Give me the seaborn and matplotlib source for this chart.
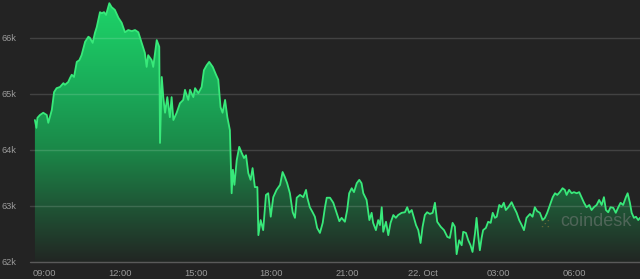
import numpy as np
import pandas as pd
import matplotlib
matplotlib.use("Agg")
import matplotlib.pyplot as plt
from matplotlib.colors import LinearSegmentedColormap
from matplotlib.transforms import blended_transform_factory
import seaborn as sns

# hours since 21 Oct 00:00
hours = [8.62, 8.68, 8.72, 8.82, 8.95, 9.09, 9.15, 9.29, 9.38, 9.48, 9.61, 9.75, 9.81, 9.94,
         10.01, 10.08, 10.17, 10.28, 10.38, 10.47, 10.61, 10.74, 10.80, 10.91, 11.00, 11.07,
         11.20, 11.27, 11.36, 11.44, 11.57, 11.66, 11.79, 11.93, 12.06, 12.19, 12.32, 12.46,
         12.59, 12.72, 12.79, 12.98, 13.05, 13.11, 13.25, 13.31, 13.45, 13.55, 13.58, 13.65,
         13.71, 13.78, 13.87, 13.97, 14.04, 14.11, 14.24, 14.37, 14.50, 14.57, 14.70, 14.77,
         14.90, 14.97, 15.10, 15.23, 15.32, 15.43, 15.53, 15.67, 15.80, 15.89, 15.98, 16.06,
         16.16, 16.25, 16.35, 16.42, 16.47, 16.53, 16.62, 16.72, 16.82, 16.91, 16.99, 17.08,
         17.17, 17.25, 17.34, 17.44, 17.48, 17.57, 17.67, 17.78, 17.87, 17.97, 18.07, 18.20,
         18.34, 18.44, 18.53, 18.62, 18.73, 18.84, 18.93, 19.00, 19.13, 19.26, 19.37, 19.42,
         19.52, 19.63, 19.72, 19.81, 19.92, 20.03, 20.12, 20.19, 20.32, 20.45, 20.58, 20.69,
         20.78, 20.91, 21.00, 21.08, 21.18, 21.27, 21.38, 21.48, 21.57, 21.64, 21.77, 21.88,
         21.97, 22.03, 22.14, 22.23, 22.30, 22.37, 22.43, 22.54, 22.63, 22.72, 22.83, 22.93,
         23.02, 23.16, 23.29, 23.38, 23.46, 23.56, 23.65, 23.73, 23.82, 23.91, 23.99, 24.08,
         24.17, 24.28, 24.39, 24.48, 24.57, 24.71, 24.84, 24.97, 25.07, 25.18, 25.27, 25.34,
         25.44, 25.54, 25.60, 25.71, 25.80, 25.89, 25.97, 26.07, 26.13, 26.20, 26.26, 26.33,
         26.39, 26.50, 26.59, 26.69, 26.77, 26.86, 26.93, 27.03, 27.12, 27.21, 27.29, 27.39,
         27.52, 27.61, 27.72, 27.82, 27.92, 28.01, 28.11, 28.25, 28.35, 28.44, 28.53, 28.64,
         28.75, 28.84, 28.93, 29.04, 29.15, 29.24, 29.33, 29.43, 29.54, 29.63, 29.70, 29.80,
         29.90, 29.99, 30.10, 30.20, 30.30, 30.39, 30.49, 30.60, 30.69, 30.78, 30.89, 30.99,
         31.09, 31.18, 31.26, 31.35, 31.44, 31.55, 31.65, 31.75, 31.84, 31.94, 32.05, 32.12,
         32.21, 32.28, 32.37, 32.45, 32.54, 32.61]

prices = [64540, 64400, 64580, 64630, 64670, 64630, 64490, 64720, 65040, 65110, 65130, 65200, 65170, 65220,
          65290, 65350, 65310, 65580, 65610, 65700, 65940, 66030, 66010, 65920, 66100, 66200,
          66470, 66450, 66470, 66420, 66630, 66560, 66510, 66370, 66280, 66110, 66150, 66130,
          66150, 66110, 66010, 65740, 65490, 65700, 65610, 65490, 65970, 65850, 64130, 65310,
          64950, 64670, 64950, 64590, 64950, 64540, 64670, 64840, 64900, 65080, 64900, 65080,
          64950, 65110, 65020, 65130, 65430, 65520, 65580, 65490, 65350, 65260, 64770, 64670,
          64900, 64590, 64360, 63230, 63650, 63380, 63820, 64060, 63950, 63860, 63910, 63590,
          63470, 63680, 63340, 63340, 62480, 62750, 62570, 63200, 63230, 62810, 63160, 63290,
          63380, 63610, 63520, 63410, 63230, 62890, 62790, 63150, 63200, 63160, 63290, 63150,
          62980, 62890, 62810, 62610, 62520, 62700, 62980, 63150, 63150, 63060, 62880, 62730,
          62790, 62720, 62930, 63230, 63320, 63250, 63410, 63470, 63410, 63230, 63110, 62750,
          62880, 62700, 62570, 62750, 62660, 62980, 62540, 62720, 62480, 62700, 62840, 62790,
          62840, 62880, 62890, 62980, 62880, 62930, 62790, 62660, 62570, 62340, 62630, 62840,
          62890, 62860, 62880, 63060, 62720, 62630, 62570, 62450, 62430, 62700, 62630, 62140,
          62390, 62300, 62540, 62520, 62390, 62300, 62180, 62520, 62790, 62450, 62210, 62430,
          62570, 62610, 62720, 62700, 62880, 62790, 62810, 63020, 62980, 63060, 62930, 62980,
          63070, 62980, 62880, 62750, 62660, 62570, 62790, 62860, 62810, 62980, 62910, 62880,
          62750, 62790, 62880, 63020, 63160, 63230, 63200, 63250, 63320, 63290, 63200, 63290,
          63230, 63250, 63230, 63250, 63150, 63060, 62980, 63020, 62930, 62980, 63020, 63110,
          63020, 63160, 62930, 62890, 62980, 62970, 62880, 62980, 63060, 63020, 63160, 63230,
          63060, 62880, 62790, 62810, 62750, 62790]

ytick_values = [62000, 63000, 64000, 65000, 66000]
ytick_labels = ["62k", "63k", "64k", "65k", "66k"]
xtick_hours = [9, 12, 15, 18, 21, 24, 27, 30]
xtick_labels = ["09:00", "12:00", "15:00", "18:00", "21:00", "22. Oct", "03:00", "06:00"]

BG = "#232323"
sns.set_theme(style="dark", rc={"axes.facecolor": BG, "figure.facecolor": BG})
plt.rcParams["font.family"] = ["Liberation Sans", "DejaVu Sans"]

W, H = 640, 279
fig = plt.figure(figsize=(W / 100, H / 100), dpi=100)
ax = fig.add_axes([0, 0, 1, 1])
ax.set_facecolor(BG)
XMIN, XMAX = 7.236, 32.61
YMIN, YMAX = 61696, 66687
ax.set_xlim(XMIN, XMAX)
ax.set_ylim(YMIN, YMAX)

df = pd.DataFrame({"hour": hours, "price": prices})

# gradient area fill
poly = ax.fill_between(df["hour"], df["price"], 62000, color="none", lw=0)
cmap = LinearSegmentedColormap.from_list(
    "g",
    [(0.0, "#222623"), (0.213, "#1f5636"), (0.426, "#1b8848"),
     (0.638, "#1aa858"), (0.851, "#1cc462"), (1.0, "#1ed46a")])
grad = np.linspace(0, 1, 256).reshape(-1, 1)
img = ax.imshow(grad, extent=[XMIN, XMAX, 62000, 66700], origin="lower",
                aspect="auto", cmap=cmap, zorder=1, interpolation="bilinear")
img.set_clip_path(poly.get_paths()[0], transform=ax.transData)
ax.set_xlim(XMIN, XMAX)
ax.set_ylim(YMIN, YMAX)

# gridlines
for v in ytick_values:
    ax.axhline(v, xmin=30 / W, xmax=1, color="white",
               alpha=0.25 if v == 62000 else 0.14, lw=1.0, zorder=2)

sns.lineplot(data=df, x="hour", y="price", ax=ax, color="#38e97a",
             linewidth=1.3, estimator=None, sort=False, zorder=3)

ax.set_xlabel("")
ax.set_ylabel("")
ax.set_xticks([])
ax.set_yticks([])
for s in ax.spines.values():
    s.set_visible(False)

ty = blended_transform_factory(ax.transAxes, ax.transData)
for v, lab in zip(ytick_values, ytick_labels):
    ax.text(2 / W, v, lab, transform=ty, ha="left", va="center",
            fontsize=6.7, color="#9a9a9a", zorder=4)

tx = blended_transform_factory(ax.transData, ax.transAxes)
for h, lab in zip(xtick_hours, xtick_labels):
    ax.text(h, (H - 274) / H, lab, transform=tx, ha="center", va="center",
            fontsize=6.7, color="#9a9a9a", zorder=4)

# watermark
ax.text(596 / W, (H - 221) / H, "coindesk", transform=ax.transAxes,
        ha="center", va="center", fontsize=13, color="#8a8a8a", alpha=0.45, zorder=5)
ax.text(545 / W, (H - 224) / H, "\u2059", transform=ax.transAxes,
        ha="center", va="center", fontsize=11, color="#8a7a3a", alpha=0.6,
        family=["DejaVu Sans"], zorder=5)

fig.savefig("out.png", dpi=100, facecolor=BG)
